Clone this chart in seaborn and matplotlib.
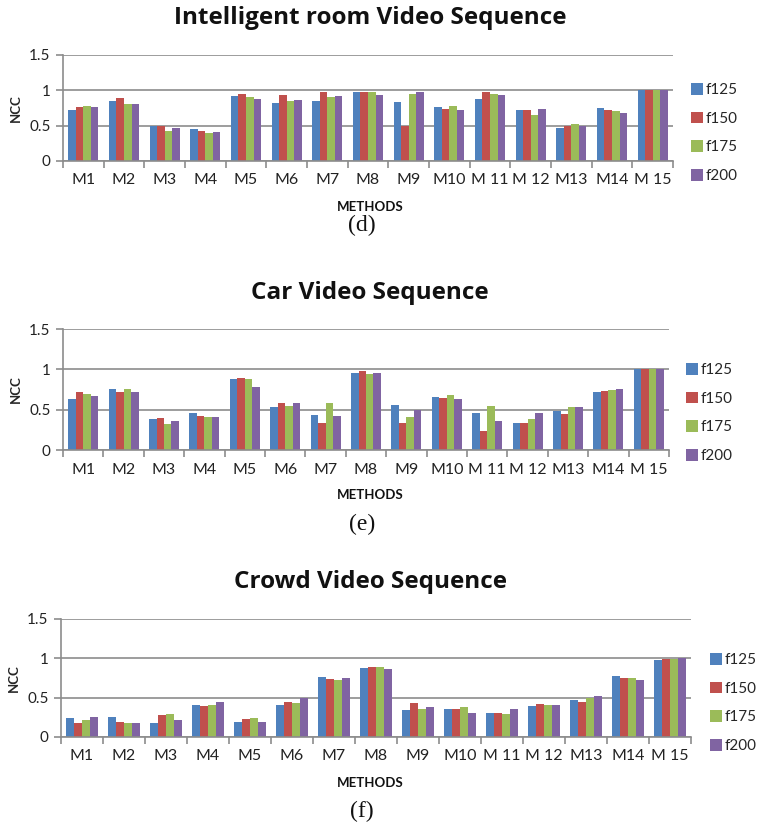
import matplotlib
matplotlib.use("Agg")
import matplotlib.pyplot as plt
import seaborn as sns
import pandas as pd
import numpy as np
from matplotlib.ticker import FixedLocator

sns.set_theme(style="white")
plt.rcParams['font.family'] = ['Lato', 'DejaVu Sans']

methods = ["M1", "M2", "M3", "M4", "M5", "M6", "M7", "M8", "M9", "M10",
           "M 11", "M 12", "M13", "M14", "M 15"]
series = ["f125", "f150", "f175", "f200"]
colors = ["#4F81BD", "#C0504D", "#9BBB59", "#8064A2"]

# (d) Intelligent room
room_f125 = [0.72, 0.85, 0.49, 0.45, 0.92, 0.82, 0.85, 0.98, 0.84, 0.76, 0.88, 0.72, 0.47, 0.75, 1.00]
room_f150 = [0.76, 0.89, 0.50, 0.43, 0.95, 0.94, 0.97, 0.98, 0.49, 0.74, 0.97, 0.72, 0.49, 0.72, 1.00]
room_f175 = [0.78, 0.80, 0.42, 0.40, 0.91, 0.85, 0.90, 0.97, 0.95, 0.78, 0.95, 0.65, 0.53, 0.71, 1.00]
room_f200 = [0.76, 0.80, 0.46, 0.41, 0.88, 0.87, 0.92, 0.94, 0.97, 0.72, 0.93, 0.73, 0.50, 0.68, 1.00]

# (e) Car
car_f125 = [0.63, 0.76, 0.38, 0.46, 0.88, 0.53, 0.44, 0.96, 0.56, 0.66, 0.46, 0.33, 0.48, 0.72, 1.00]
car_f150 = [0.72, 0.72, 0.40, 0.42, 0.89, 0.58, 0.33, 0.98, 0.34, 0.65, 0.24, 0.34, 0.45, 0.73, 1.00]
car_f175 = [0.69, 0.76, 0.32, 0.41, 0.88, 0.54, 0.58, 0.94, 0.41, 0.68, 0.54, 0.39, 0.53, 0.74, 1.00]
car_f200 = [0.67, 0.72, 0.36, 0.41, 0.78, 0.58, 0.42, 0.95, 0.49, 0.63, 0.36, 0.46, 0.53, 0.76, 1.00]

# (f) Crowd
crowd_f125 = [0.24, 0.25, 0.18, 0.41, 0.19, 0.41, 0.76, 0.88, 0.34, 0.36, 0.31, 0.40, 0.47, 0.77, 0.98]
crowd_f150 = [0.18, 0.19, 0.28, 0.40, 0.23, 0.45, 0.74, 0.89, 0.43, 0.35, 0.30, 0.42, 0.45, 0.75, 0.99]
crowd_f175 = [0.21, 0.18, 0.29, 0.41, 0.24, 0.43, 0.73, 0.89, 0.35, 0.38, 0.29, 0.41, 0.49, 0.75, 0.99]
crowd_f200 = [0.25, 0.18, 0.21, 0.44, 0.19, 0.49, 0.75, 0.87, 0.38, 0.31, 0.35, 0.41, 0.52, 0.72, 1.00]

yticks = [0, 0.5, 1, 1.5]
ytick_labels = ["0", "0.5", "1", "1.5"]

panels = [
    dict(title="Intelligent room Video Sequence", cap="(d)",
         data=[room_f125, room_f150, room_f175, room_f200],
         box=(63, 55, 673, 161), title_y=18, xlab_y=207, cap_y=225, leg=(700, 93, 182)),
    dict(title="Car Video Sequence", cap="(e)",
         data=[car_f125, car_f150, car_f175, car_f200],
         box=(63, 329, 669, 450), title_y=293, xlab_y=495, cap_y=524, leg=(695, 373, 462)),
    dict(title="Crowd Video Sequence", cap="(f)",
         data=[crowd_f125, crowd_f150, crowd_f175, crowd_f200],
         box=(61, 619, 691, 737), title_y=582, xlab_y=783, cap_y=811, leg=(719, 663, 752)),
]

W, H = 760, 827
fig = plt.figure(figsize=(W / 100, H / 100), dpi=100)
grid_col = "#8C8C8C"

for p in panels:
    x0, y0, x1, y1 = p["box"]
    ax = fig.add_axes([x0 / W, 1 - y1 / H, (x1 - x0) / W, (y1 - y0) / H])
    rows = []
    for s, vals in zip(series, p["data"]):
        for m, v in zip(methods, vals):
            rows.append(dict(method=m, series=s, value=v))
    df = pd.DataFrame(rows)
    sns.barplot(data=df, x="method", y="value", hue="series", order=methods,
                hue_order=series, palette=colors, width=0.74, gap=0,
                saturation=1, ax=ax, legend=True, edgecolor="none", linewidth=0)
    ax.set_xlim(-0.5, len(methods) - 0.5)
    ax.set_ylim(0, 1.5)
    ax.set_yticks(yticks)
    ax.set_yticklabels(ytick_labels, fontsize=11, color="#222222")
    ax.yaxis.grid(True, color=grid_col, linewidth=1.2)
    ax.set_axisbelow(True)
    ax.tick_params(axis="x", which="major", length=0, labelsize=11.5,
                   labelcolor="#222222", pad=9)
    ax.xaxis.set_minor_locator(FixedLocator(np.arange(-0.5, len(methods), 1.0)))
    ax.tick_params(axis="x", which="minor", length=5, color=grid_col, width=1.2,
                   direction="out", bottom=True)
    ax.tick_params(axis="y", which="major", length=5, color=grid_col, width=1.2,
                   direction="out", left=True, pad=4)
    for side in ["top", "right"]:
        ax.spines[side].set_visible(False)
    for side in ["left", "bottom"]:
        ax.spines[side].set_color(grid_col)
        ax.spines[side].set_linewidth(1.2)
    ax.set_xlabel("")
    ax.set_ylabel("NCC", fontsize=9.5, fontweight="bold", labelpad=5)
    handles, labels = ax.get_legend_handles_labels()
    ax.get_legend().remove()
    lx, ly0, ly1 = p["leg"]
    fig.legend(handles, labels, loc="upper left",
               bbox_to_anchor=(lx / W - 0.012, 1 - (ly0 - 10) / H),
               frameon=False, fontsize=11, handlelength=0.8, handleheight=0.8,
               handletextpad=0.15, labelspacing=0.95, borderaxespad=0, borderpad=0)
    fig.text(370 / W, 1 - p["title_y"] / H, p["title"], ha="center", va="center",
             fontsize=17.5, fontweight="bold", family="Open Sans", color="#111111")
    fig.text(370 / W, 1 - p["xlab_y"] / H, "METHODS", ha="center", va="center",
             fontsize=9.5, fontweight="bold", color="#111111")
    fig.text(362 / W, 1 - p["cap_y"] / H, p["cap"], ha="center", va="center",
             fontsize=17, family="Liberation Serif", color="#111111")

fig.savefig("out.png", dpi=100, facecolor="white")
